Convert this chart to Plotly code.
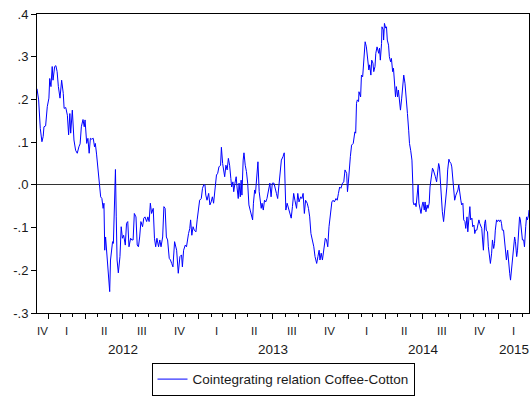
import pandas as pd
import plotly.graph_objects as go

# Cointegrating relation (Coffee-Cotton): observation day (days since 2012-01-01) and value
BASE_DATE = pd.Timestamp("2012-01-01")

obs_day = [
    -27, -23, -19, -15, -12, -10, -6, -2, 2, 4,
    7, 10, 12, 16, 19, 22, 25, 29, 33, 37,
    39, 43, 47, 50, 53, 55, 59, 63, 67, 71,
    75, 78, 81, 85, 88, 90, 94, 97, 100, 103,
    106, 110, 113, 115, 118, 120, 123, 126, 128, 131,
    134, 136, 138, 140, 144, 147, 150, 152, 154, 157,
    159, 161, 164, 166, 168, 171, 175, 178, 181, 184,
    188, 191, 194, 197, 201, 204, 207, 210, 214, 217,
    220, 223, 226, 230, 233, 236, 240, 243, 246, 249,
    252, 256, 259, 262, 265, 269, 272, 275, 279, 282,
    285, 288, 291, 295, 298, 301, 304, 308, 313, 317,
    321, 325, 327, 330, 334, 337, 339, 342, 345, 347,
    350, 353, 356, 360, 363, 366, 369, 373, 376, 379,
    382, 384, 387, 391, 394, 397, 400, 403, 407, 410,
    413, 416, 420, 422, 425, 428, 430, 433, 436, 439,
    442, 445, 447, 450, 452, 455, 458, 460, 463, 465,
    468, 470, 472, 475, 477, 480, 483, 486, 489, 492,
    495, 498, 500, 503, 505, 507, 511, 514, 516, 519,
    521, 524, 527, 530, 533, 537, 540, 543, 546, 550,
    553, 556, 559, 563, 565, 568, 572, 575, 577, 579,
    582, 585, 589, 592, 595, 598, 601, 605, 608, 611,
    615, 618, 621, 624, 627, 631, 634, 637, 640, 644,
    647, 650, 654, 657, 660, 662, 665, 668, 671, 675,
    678, 681, 684, 688, 691, 694, 697, 701, 704, 707,
    710, 713, 717, 720, 723, 727, 729, 731, 734, 736,
    739, 743, 747, 749, 751, 753, 756, 757, 761, 763,
    766, 769, 772, 775, 778, 781, 783, 786, 788, 791,
    793, 796, 798, 801, 805, 807, 809, 812, 813, 816,
    817, 819, 822, 824, 826, 829, 831, 834, 836, 839,
    841, 843, 846, 848, 851, 853, 856, 858, 861, 863,
    866, 869, 873, 875, 878, 880, 883, 886, 888, 889,
    891, 894, 896, 899, 901, 903, 906, 908, 911, 913,
    916, 918, 920, 923, 925, 928, 930, 934, 936, 938,
    941, 943, 946, 948, 951, 953, 955, 958, 960, 963,
    966, 968, 971, 973, 976, 978, 981, 983, 985, 988,
    990, 993, 995, 998, 1000, 1002, 1005, 1007, 1010, 1012,
    1015, 1017, 1020, 1022, 1024, 1027, 1029, 1032, 1034, 1037,
    1039, 1041, 1044, 1046, 1049, 1051, 1054, 1056, 1058, 1060,
    1063, 1065, 1067, 1070, 1072, 1075, 1077, 1080, 1082, 1085,
    1087, 1089, 1092, 1094, 1097, 1099, 1102, 1104, 1106, 1109,
    1111, 1114, 1116, 1119, 1121, 1124, 1126, 1128, 1131, 1133,
    1136, 1138, 1141, 1143, 1145, 1148, 1150, 1153, 1155, 1158,
    1160, 1163, 1165, 1167, 1170, 1171,
]

coint = [
    0.225, 0.199, 0.132, 0.101, 0.113, 0.136, 0.138, 0.183, 0.203, 0.249,
    0.230, 0.277, 0.245, 0.277, 0.279, 0.265, 0.230, 0.203, 0.245, 0.214,
    0.179, 0.181, 0.163, 0.117, 0.167, 0.121, 0.175, 0.105, 0.081, 0.074,
    0.089, 0.096, 0.136, 0.153, 0.136, 0.152, 0.097, 0.109, 0.074, 0.109,
    0.107, 0.109, 0.089, 0.097, 0.072, 0.050, 0.035, 0.004, -0.028, -0.032,
    -0.055, -0.043, -0.153, -0.122, -0.168, -0.219, -0.250, -0.176, -0.153, -0.133,
    -0.137, -0.075, 0.036, -0.075, -0.176, -0.206, -0.168, -0.098, -0.125, -0.118,
    -0.141, -0.090, -0.086, -0.145, -0.125, -0.129, -0.129, -0.067, -0.075, -0.141,
    -0.145, -0.122, -0.086, -0.098, -0.078, -0.075, -0.086, -0.075, -0.086, -0.043,
    -0.067, -0.055, -0.125, -0.145, -0.125, -0.145, -0.129, -0.145, -0.122, -0.051,
    -0.055, -0.122, -0.129, -0.172, -0.176, -0.184, -0.192, -0.133, -0.153, -0.207,
    -0.168, -0.164, -0.192, -0.153, -0.141, -0.145, -0.129, -0.114, -0.102, -0.082,
    -0.118, -0.098, -0.106, -0.110, -0.082, -0.059, -0.036, -0.032, -0.008, 0.000,
    0.000, -0.024, -0.036, -0.020, -0.047, -0.040, -0.028, -0.043, -0.005, 0.023,
    0.027, 0.042, 0.046, 0.088, 0.050, 0.035, 0.019, 0.046, 0.035, 0.062,
    0.046, 0.015, -0.005, 0.007, -0.016, 0.004, 0.019, -0.005, -0.032, 0.004,
    -0.028, 0.011, -0.024, 0.058, 0.075, 0.046, 0.031, 0.004, -0.047, -0.059,
    -0.071, -0.082, -0.043, -0.012, -0.020, 0.011, 0.054, -0.016, -0.028, -0.055,
    -0.043, -0.059, -0.036, -0.040, -0.032, -0.012, 0.004, -0.028, 0.004, 0.004,
    -0.012, -0.020, -0.032, 0.011, 0.035, 0.058, 0.066, 0.075, 0.004, -0.059,
    -0.043, -0.055, -0.071, -0.078, -0.051, -0.020, -0.036, -0.055, -0.020, -0.040,
    -0.028, -0.032, -0.020, -0.067, -0.036, -0.043, -0.055, -0.075, -0.114, -0.129,
    -0.145, -0.168, -0.184, -0.168, -0.153, -0.176, -0.160, -0.176, -0.153, -0.125,
    -0.129, -0.145, -0.098, -0.067, -0.040, -0.036, -0.040, -0.032, -0.036, -0.020,
    -0.005, -0.008, 0.004, 0.007, 0.035, 0.027, -0.016, 0.004, 0.054, 0.066,
    0.093, 0.097, 0.124, 0.121, 0.191, 0.199, 0.195, 0.218, 0.206, 0.257,
    0.253, 0.308, 0.335, 0.323, 0.300, 0.269, 0.281, 0.257, 0.292, 0.285,
    0.265, 0.277, 0.308, 0.323, 0.308, 0.320, 0.292, 0.331, 0.370, 0.363,
    0.339, 0.378, 0.367, 0.370, 0.339, 0.327, 0.300, 0.288, 0.296, 0.265,
    0.273, 0.238, 0.206, 0.230, 0.206, 0.222, 0.195, 0.175, 0.203, 0.222,
    0.257, 0.238, 0.199, 0.167, 0.128, 0.097, 0.080, 0.058, 0.004, -0.040,
    -0.047, -0.043, -0.051, -0.020, 0.000, -0.043, -0.055, -0.067, -0.047, -0.040,
    -0.059, -0.040, -0.063, -0.047, -0.055, -0.043, -0.005, 0.019, 0.039, 0.035,
    0.027, 0.019, 0.007, 0.027, 0.050, 0.042, 0.004, -0.036, -0.063, -0.086,
    -0.055, -0.036, -0.005, 0.035, 0.060, 0.054, 0.050, 0.042, 0.023, -0.005,
    -0.036, -0.024, -0.020, -0.012, 0.000, -0.020, -0.036, -0.047, -0.043, -0.082,
    -0.086, -0.102, -0.075, -0.110, -0.075, -0.051, -0.082, -0.078, -0.098, -0.094,
    -0.114, -0.106, -0.106, -0.094, -0.082, -0.090, -0.098, -0.102, -0.129, -0.153,
    -0.090, -0.082, -0.106, -0.110, -0.145, -0.168, -0.184, -0.160, -0.129, -0.149,
    -0.137, -0.106, -0.082, -0.086, -0.082, -0.086, -0.082, -0.090, -0.106, -0.106,
    -0.122, -0.153, -0.176, -0.153, -0.184, -0.207, -0.223, -0.200, -0.176, -0.145,
    -0.122, -0.133, -0.168, -0.153, -0.106, -0.075, -0.082, -0.122, -0.129, -0.129,
    -0.145, -0.098, -0.075, -0.082, -0.071, -0.059,
]

y_ticks = [-0.3, -0.2, -0.1, 0.0, 0.1, 0.2, 0.3, 0.4]
y_tick_text = ["-.3", "-.2", "-.1", ".0", ".1", ".2", ".3", ".4"]
quarter_names = ["IV", "I", "II", "III", "IV", "I", "II", "III", "IV",
                 "I", "II", "III", "IV", "I"]
year_names = ["2012", "2013", "2014", "2015"]
series_name = "Cointegrating relation Coffee-Cotton"

assert len(obs_day) == len(coint)

dates = BASE_DATE + pd.to_timedelta(obs_day, unit="D")
first, last = dates[0], dates[-1]

# quarter boundaries (long ticks) and label positions centred in each visible quarter
q_starts = list(pd.date_range("2012-01-01", "2015-01-01", freq="QS"))
q_edges = [first] + q_starts + [last]
q_mids = [a + (b - a) / 2 for a, b in zip(q_edges[:-1], q_edges[1:])]

# year labels centred in each visible year
yr_starts = list(pd.date_range("2012-01-01", "2015-01-01", freq="YS"))
yr_edges = yr_starts + [last]
yr_mids = [a + (b - a) / 2 for a, b in zip(yr_edges[:-1], yr_edges[1:])]

FONT = "Arial, Liberation Sans, sans-serif"
INK = "#1a1a1a"

fig = go.Figure()
fig.add_trace(go.Scatter(
    x=dates, y=coint, mode="lines", name=series_name,
    line=dict(color="#0000FF", width=1),
))

# two-row period labels under the time axis: quarters, then years
for pos, txt in zip(q_mids, quarter_names):
    fig.add_annotation(
        x=pos.isoformat(), xref="x", y=0, yref="paper", yanchor="middle",
        yshift=-18, text=txt, showarrow=False,
        font=dict(family=FONT, size=11.5, color=INK),
    )
for pos, txt in zip(yr_mids, year_names):
    fig.add_annotation(
        x=pos.isoformat(), xref="x", y=0, yref="paper", yanchor="middle",
        yshift=-36, text=txt, showarrow=False,
        font=dict(family=FONT, size=13.5, color=INK),
    )

fig.update_layout(
    width=532, height=401,
    margin=dict(l=37, r=3, t=14, b=88),
    paper_bgcolor="white", plot_bgcolor="white",
    font=dict(family=FONT, size=13, color=INK),
    showlegend=True,
    legend=dict(
        orientation="h", x=0.5, xanchor="center", y=-0.277, yanchor="bottom",
        bordercolor="black", borderwidth=1, bgcolor="white",
        font=dict(family=FONT, size=13.5, color=INK),
    ),
    xaxis=dict(
        type="date", range=[first, last],
        tickmode="array", tickvals=q_starts, showticklabels=False,
        ticks="outside", ticklen=5, tickwidth=1, tickcolor="black",
        minor=dict(ticks="outside", ticklen=3, tickwidth=1, tickcolor="black",
                   dtick="M1", tick0="2012-01-01"),
        showline=True, linecolor="black", linewidth=1, mirror=True,
        showgrid=False, zeroline=False,
    ),
    yaxis=dict(
        range=[-0.3, 0.4], tickmode="array", tickvals=y_ticks, ticktext=y_tick_text,
        ticks="outside", ticklen=5, tickwidth=1, tickcolor="black",
        showline=True, linecolor="black", linewidth=1, mirror=True,
        showgrid=False, zeroline=True, zerolinecolor="#333333", zerolinewidth=1,
        tickfont=dict(family=FONT, size=13, color=INK),
    ),
)

fig.write_html("out.html")
